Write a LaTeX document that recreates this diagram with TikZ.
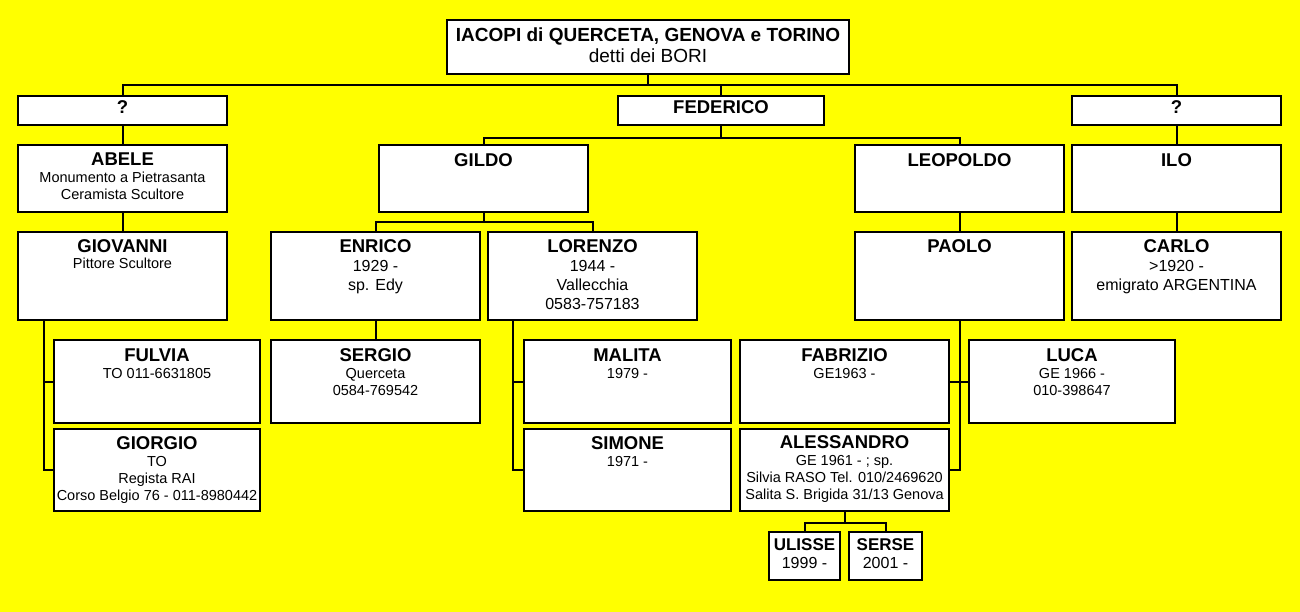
\documentclass[tikz,border=0pt]{standalone}
\usepackage{fontspec}
\setmainfont{Liberation Sans}
\definecolor{bgyellow}{RGB}{255,255,0}
\newcommand{\nm}[1]{{\fontsize{18.5}{17}\selectfont\bfseries #1}}
\newcommand{\nmsmall}[1]{{\fontsize{17}{17}\selectfont\bfseries #1}}
\newcommand{\boxtext}[1]{\begin{tabular}[t]{@{}c@{}}#1\end{tabular}}

\begin{document}
\begin{tikzpicture}[x=1pt,y=-1pt,
		box/.style={draw=black, fill=white, line width=2pt, inner sep=0pt, anchor=north west, minimum width=209pt},
		txt/.style={anchor=base, inner sep=0pt, font=\fontsize{14.5}{17}\selectfont},
		big/.style={font=\fontsize{16}{19}\selectfont},
		link/.style={line width=2pt}]
		\fill[bgyellow] (0,0) rectangle (1300,612);
		\useasboundingbox (0,0) rectangle (1300,612);
		
		% boxes
		\node[box, minimum width=402pt, minimum height=54pt] (root) at (446,19) {};
		\node[box, minimum height=29pt] (q1) at (17,95) {};
		\node[box, minimum width=206pt, minimum height=29pt] (fed) at (617,95) {};
		\node[box, minimum height=29pt] (q2) at (1071,95) {};
		
		\node[box, minimum height=67pt] (abele) at (17,144) {};
		\node[box, minimum height=67pt] (gildo) at (378,144) {};
		\node[box, minimum height=67pt] (leo) at (854,144) {};
		\node[box, minimum height=67pt] (ilo) at (1071,144) {};
		
		\node[box, minimum height=88pt] (giov) at (17,231) {};
		\node[box, minimum height=88pt] (enrico) at (270,231) {};
		\node[box, minimum height=88pt] (lorenzo) at (487,231) {};
		\node[box, minimum height=88pt] (paolo) at (854,231) {};
		\node[box, minimum height=88pt] (carlo) at (1071,231) {};
		
		\node[box, minimum width=206pt, minimum height=83pt] (fulvia) at (53,339) {};
		\node[box, minimum height=83pt] (sergio) at (270,339) {};
		\node[box, minimum width=207pt, minimum height=83pt] (malita) at (523,339) {};
		\node[box, minimum height=83pt] (fabrizio) at (739,339) {};
		\node[box, minimum width=206pt, minimum height=83pt] (luca) at (968,339) {};
		
		\node[box, minimum width=206pt, minimum height=82pt] (giorgio) at (53,428) {};
		\node[box, minimum width=207pt, minimum height=82pt] (simone) at (523,428) {};
		\node[box, minimum height=82pt] (aless) at (739,428) {};
		
		\node[box, minimum width=71pt, minimum height=48pt] (ulisse) at (768,531) {};
		\node[box, minimum width=73pt, minimum height=48pt] (serse) at (848,531) {};
		
		% texts
		\node[txt, font=\fontsize{19}{21}\selectfont] (root-t) at ([yshift=-23pt]root.north) {\boxtext{\textbf{IACOPI di QUERCETA, GENOVA e TORINO}\\ detti dei BORI}};
		\node[txt] (q1-t) at ([yshift=-19pt]q1.north) {\nm{?}};
		\node[txt] (fed-t) at ([yshift=-19pt]fed.north) {\nm{FEDERICO}};
		\node[txt] (q2-t) at ([yshift=-19pt]q2.north) {\nm{?}};
		
		\node[txt] (abele-t) at ([yshift=-22pt]abele.north) {\boxtext{\nm{ABELE}\\ Monumento a Pietrasanta\\ Ceramista Scultore}};
		\node[txt] (gildo-t) at ([yshift=-23pt]gildo.north) {\nm{GILDO}};
		\node[txt] (leo-t) at ([yshift=-23pt]leo.north) {\nm{LEOPOLDO}};
		\node[txt] (ilo-t) at ([yshift=-23pt]ilo.north) {\nm{ILO}};
		
		\node[txt] (giov-t) at ([yshift=-21pt]giov.north) {\boxtext{\nm{GIOVANNI}\\ Pittore Scultore}};
		\node[txt, big] (enrico-t) at ([yshift=-21pt]enrico.north) {\boxtext{\nm{ENRICO}\\ 1929 -\\ sp. Edy}};
		\node[txt, big] (lorenzo-t) at ([yshift=-21pt]lorenzo.north) {\boxtext{\nm{LORENZO}\\ 1944 -\\ Vallecchia\\ 0583-757183}};
		\node[txt] (paolo-t) at ([yshift=-21pt]paolo.north) {\nm{PAOLO}};
		\node[txt, big] (carlo-t) at ([yshift=-21pt]carlo.north) {\boxtext{\nm{CARLO}\\ >1920 -\\ emigrato ARGENTINA}};
		
		\node[txt] (fulvia-t) at ([yshift=-22pt]fulvia.north) {\boxtext{\nm{FULVIA}\\ TO 011-6631805}};
		\node[txt] (sergio-t) at ([yshift=-22pt]sergio.north) {\boxtext{\nm{SERGIO}\\ Querceta\\ 0584-769542}};
		\node[txt] (malita-t) at ([yshift=-22pt]malita.north) {\boxtext{\nm{MALITA}\\ 1979 -}};
		\node[txt] (fabrizio-t) at ([yshift=-22pt]fabrizio.north) {\boxtext{\nm{FABRIZIO}\\ GE1963 -}};
		\node[txt] (luca-t) at ([yshift=-22pt]luca.north) {\boxtext{\nm{LUCA}\\ GE 1966 -\\ 010-398647}};
		
		\node[txt] (giorgio-t) at ([yshift=-21pt]giorgio.north) {\boxtext{\nm{GIORGIO}\\ TO\\ Regista RAI\\ Corso Belgio 76 - 011-8980442}};
		\node[txt] (simone-t) at ([yshift=-21pt]simone.north) {\boxtext{\nm{SIMONE}\\ 1971 -}};
		\node[txt] (aless-t) at ([yshift=-20pt]aless.north) {\boxtext{\nm{ALESSANDRO}\\ GE 1961 - ; sp.\\ Silvia RASO Tel. 010/2469620\\ Salita S. Brigida 31/13 Genova}};
		
		\node[txt, font=\fontsize{16}{18}\selectfont] (ulisse-t) at ([yshift=-19pt]ulisse.north) {\boxtext{\nmsmall{ULISSE}\\ 1999 -}};
		\node[txt, font=\fontsize{16}{18}\selectfont] (serse-t) at ([yshift=-19pt]serse.north) {\boxtext{\nmsmall{SERSE}\\ 2001 -}};
		
		% connectors
		\draw[link] (root.south) -- ++(0,10) -| (q1.north);
		\draw[link] (root.south) -- ++(0,10) -| (fed.north);
		\draw[link] (root.south) -- ++(0,10) -| (q2.north);
		\draw[link] (q1) -- (abele);
		\draw[link] (abele) -- (giov);
		\draw[link] (q2) -- (ilo);
		\draw[link] (ilo) -- (carlo);
		\draw[link] (fed.south) -- ++(0,12) -| (gildo.north);
		\draw[link] (fed.south) -- ++(0,12) -| (leo.north);
		\draw[link] (gildo.south) -- ++(0,9) -| (enrico.north);
		\draw[link] (gildo.south) -- ++(0,9) -| (lorenzo.north);
		\draw[link] (leo) -- (paolo);
		\draw[link] (enrico) -- (sergio);
		\draw[link] ([xshift=27pt]giov.south west) |- (fulvia.west);
		\draw[link] ([xshift=27pt]giov.south west) |- (giorgio.west);
		\draw[link] ([xshift=26pt]lorenzo.south west) |- (malita.west);
		\draw[link] ([xshift=26pt]lorenzo.south west) |- (simone.west);
		\draw[link] (paolo.south) |- (fabrizio.east);
		\draw[link] (paolo.south) |- (aless.east);
		\draw[link] (paolo.south) |- (luca.west);
		\draw[link] (aless.south) -- ++(0,11) -| (ulisse.north);
		\draw[link] (aless.south) -- ++(0,11) -| (serse.north);
	\end{tikzpicture}
\end{document}
